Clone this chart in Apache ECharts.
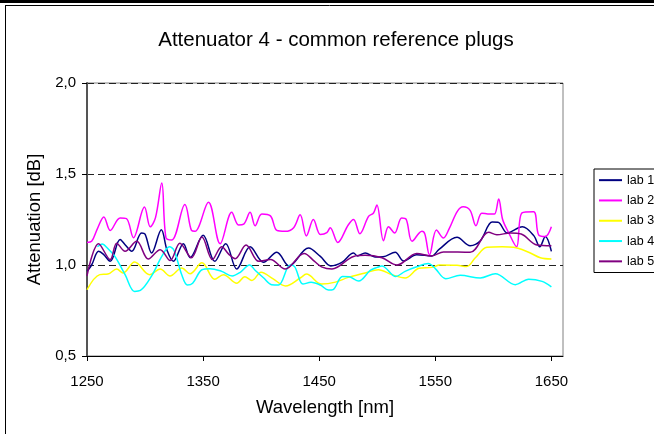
<!DOCTYPE html>
<html>
<head>
<meta charset="utf-8">
<script src="https://cdn.jsdelivr.net/npm/echarts@6/dist/echarts.min.js"></script>
<style>
  html, body { margin: 0; padding: 0; background: #fff; }
  #chart { width: 654px; height: 434px; }
</style>
</head>
<body>
<div id="chart"></div>
<script>
// Wavelength axis ticks (nm) and attenuation axis ticks (dB)
const wavelengthTicks = [1250, 1350, 1450, 1550, 1650];
const attenuationTicks = [0.5, 1.0, 1.5, 2.0];

const seriesNames = ['lab 1', 'lab 2', 'lab 3', 'lab 4', 'lab 5'];
const seriesColors = ['#000080', '#FF00FF', '#FFFF00', '#00FFFF', '#800080'];

// Measured attenuation per lab: [wavelength nm, attenuation dB]
const lab1 = [[1250,0.965],[1254,1.0],[1260,1.075],[1264,1.06],[1270,1.02],[1278.5,1.14],[1283,1.11],[1288.5,1.075],[1297,1.176],[1300,1.17],[1305.7,1.066],[1314,1.194],[1319,1.08],[1324.4,1.02],[1333,1.117],[1338.8,1.04],[1350,1.163],[1360,1.02],[1369.5,1.117],[1379,0.978],[1390.5,1.1],[1402,1.015],[1413.5,1.07],[1424,0.995],[1440.8,1.093],[1451,1.047],[1460,0.995],[1469.5,1.014],[1479.6,1.066],[1483,1.05],[1489.6,1.066],[1498,1.044],[1505,1.045],[1515.5,1.07],[1522.7,1.022],[1534,1.056],[1547,1.05],[1553,1.084],[1568.7,1.152],[1580,1.106],[1588.8,1.133],[1599,1.236],[1604,1.235],[1612,1.176],[1625,1.21],[1635,1.16],[1640,1.10],[1644.8,1.157],[1650,1.075]];

const lab2 = [[1250,1.124],[1254,1.13],[1259,1.2],[1264.5,1.264],[1270,1.19],[1278.5,1.258],[1284,1.255],[1290,1.15],[1299.5,1.318],[1304.5,1.21],[1309,1.26],[1314.4,1.45],[1318,1.15],[1323,1.137],[1334.3,1.333],[1340,1.19],[1343,1.185],[1354.6,1.345],[1364.7,1.117],[1374.7,1.29],[1380.5,1.22],[1385,1.225],[1390.5,1.29],[1394.8,1.216],[1400.6,1.28],[1408,1.27],[1413.5,1.19],[1420.7,1.185],[1428,1.205],[1433.6,1.276],[1439,1.16],[1445,1.25],[1451,1.168],[1456.6,1.178],[1459.5,1.205],[1466,1.124],[1475,1.22],[1479.6,1.25],[1485,1.172],[1492.5,1.267],[1496.8,1.286],[1499.7,1.33],[1505.4,1.133],[1509.7,1.21],[1515,1.176],[1521,1.258],[1525,1.25],[1530,1.13],[1538.5,1.185],[1541,1.17],[1545,1.055],[1551,1.192],[1557,1.148],[1562,1.2],[1569,1.295],[1574,1.32],[1580,1.30],[1585,1.216],[1590,1.285],[1597,1.28],[1601,1.28],[1604.6,1.363],[1608,1.25],[1613,1.18],[1620,1.10],[1624.7,1.286],[1634.7,1.292],[1639,1.166],[1644.8,1.157],[1650,1.21]];

const lab3 = [[1250,0.864],[1261,0.947],[1268,0.95],[1275.6,0.978],[1281,0.956],[1291,1.016],[1304,0.947],[1313,0.978],[1321.5,0.94],[1331.6,0.984],[1338.8,0.952],[1349,1.012],[1360,0.922],[1367.5,0.947],[1379,0.90],[1386,0.935],[1392,0.915],[1400,0.96],[1410,0.925],[1421,0.885],[1434,0.93],[1439,0.95],[1452,0.895],[1464,0.906],[1475,0.932],[1489.6,0.956],[1501,0.974],[1512.6,0.947],[1524,0.929],[1536,0.982],[1547,0.987],[1554,1.0],[1568.7,0.998],[1577,0.992],[1584.5,1.04],[1594.5,1.097],[1607.5,1.10],[1617.5,1.097],[1630.4,1.07],[1640.5,1.04],[1650,1.033]];

const lab4 = [[1259,1.10],[1263,1.115],[1268,1.09],[1274,1.047],[1282.8,0.947],[1291,0.855],[1296,0.86],[1305.7,0.94],[1314.4,1.047],[1321,1.10],[1325,1.08],[1331.6,0.947],[1336.5,0.89],[1341,0.9],[1349,0.974],[1356,0.98],[1366,0.965],[1375,0.94],[1382,0.96],[1390,1.0],[1395,0.97],[1402,0.93],[1409,0.892],[1415,0.89],[1425,1.0],[1429,0.99],[1436,0.895],[1443,0.905],[1451,0.89],[1458,0.862],[1462,0.865],[1470,0.937],[1476,0.935],[1484,0.912],[1494,0.97],[1500,0.987],[1504,0.995],[1516,0.937],[1524,0.965],[1534,0.99],[1544,1.008],[1550,0.98],[1559,0.925],[1571.5,0.943],[1588.8,0.929],[1601.7,0.952],[1619,0.892],[1630.4,0.922],[1642,0.91],[1650,0.88]];

const lab5 = [[1250,0.94],[1260,1.117],[1270,1.03],[1275.6,1.12],[1282.8,1.075],[1292.8,1.13],[1302.8,1.033],[1313,1.084],[1321.6,1.025],[1330,1.12],[1340,1.04],[1349,1.154],[1358,1.03],[1366,1.10],[1372,1.06],[1377.6,1.035],[1387,1.11],[1398,1.02],[1408,1.03],[1420.7,0.978],[1437,1.063],[1446,1.02],[1452,0.99],[1461,0.978],[1479.6,1.047],[1489.6,1.053],[1504,1.04],[1517,1.0],[1534,1.063],[1547,1.05],[1557,1.072],[1580,1.07],[1596,1.18],[1603,1.166],[1614.7,1.176],[1624,1.17],[1637.6,1.11],[1650,1.106]];

const labData = [lab1, lab2, lab3, lab4, lab5];

const FONT = 'Liberation Sans, Arial, sans-serif';
const chart = echarts.init(document.getElementById('chart'), null, { renderer: 'canvas' });

const option = {
  backgroundColor: '#fff',
  animation: false,
  title: {
    text: 'Attenuator 4 - common reference plugs',
    left: 331,
    top: 25,
    textAlign: 'center',
    textStyle: { fontFamily: FONT, fontSize: 20.5, fontWeight: 'normal', color: '#000' }
  },
  graphic: [
    { type: 'rect', shape: { x: 0, y: 0, width: 654, height: 3 }, style: { fill: '#000' }, silent: true },
    { type: 'line', shape: { x1: 5, y1: 5.5, x2: 654, y2: 5.5 }, style: { stroke: '#000', lineWidth: 1 }, silent: true },
    { type: 'line', shape: { x1: 5.5, y1: 5, x2: 5.5, y2: 434 }, style: { stroke: '#000', lineWidth: 1 }, silent: true }
  ],
  legend: {
    orient: 'vertical',
    left: 594,
    top: 169,
    padding: [4, 6, 4, 5],
    icon: 'rect',
    itemWidth: 23,
    itemHeight: 2,
    itemGap: 6,
    borderColor: '#000',
    borderWidth: 1,
    borderRadius: 0,
    backgroundColor: '#fff',
    textStyle: { fontFamily: FONT, fontSize: 12.5, color: '#000', lineHeight: 14.3 },
    data: seriesNames
  },
  grid: {
    left: 87,
    right: 91,
    top: 83,
    bottom: 78,
    show: true,
    borderColor: '#808080',
    borderWidth: 1,
    backgroundColor: '#fff'
  },
  xAxis: {
    type: 'value',
    min: 1250,
    max: 1660,
    interval: 100,
    name: 'Wavelength [nm]',
    nameLocation: 'middle',
    nameGap: 42,
    nameTextStyle: { fontFamily: FONT, fontSize: 18.5, color: '#000' },
    axisLine: { show: true, onZero: false, lineStyle: { color: '#000', width: 1 } },
    axisTick: { show: true, inside: false, length: 5, customValues: wavelengthTicks, lineStyle: { color: '#000' } },
    axisLabel: {
      customValues: wavelengthTicks,
      margin: 18,
      fontFamily: FONT,
      fontSize: 15,
      color: '#000',
      formatter: v => String(v)
    },
    splitLine: { show: false }
  },
  yAxis: {
    type: 'value',
    min: 0.5,
    max: 2.0,
    interval: 0.5,
    name: 'Attenuation [dB]',
    nameLocation: 'middle',
    nameGap: 37,
    nameTextStyle: { fontFamily: FONT, fontSize: 18.5, color: '#000' },
    axisLine: { show: true, lineStyle: { color: '#555', width: 2 } },
    axisTick: { show: true, inside: false, length: 5, lineStyle: { color: '#000' } },
    axisLabel: {
      margin: 11,
      fontFamily: FONT,
      fontSize: 15,
      color: '#000',
      formatter: v => v.toFixed(1).replace('.', ',')
    },
    splitLine: { show: true, lineStyle: { color: '#222', width: 1, type: [7, 4] } }
  },
  series: seriesNames.map((name, i) => ({
    name: name,
    type: 'line',
    data: labData[i],
    symbol: 'none',
    smooth: 0.35,
    lineStyle: { color: seriesColors[i], width: 1.5 },
    itemStyle: { color: seriesColors[i] },
    z: 3 + i
  }))
};

chart.setOption(option);
</script>
</body>
</html>
